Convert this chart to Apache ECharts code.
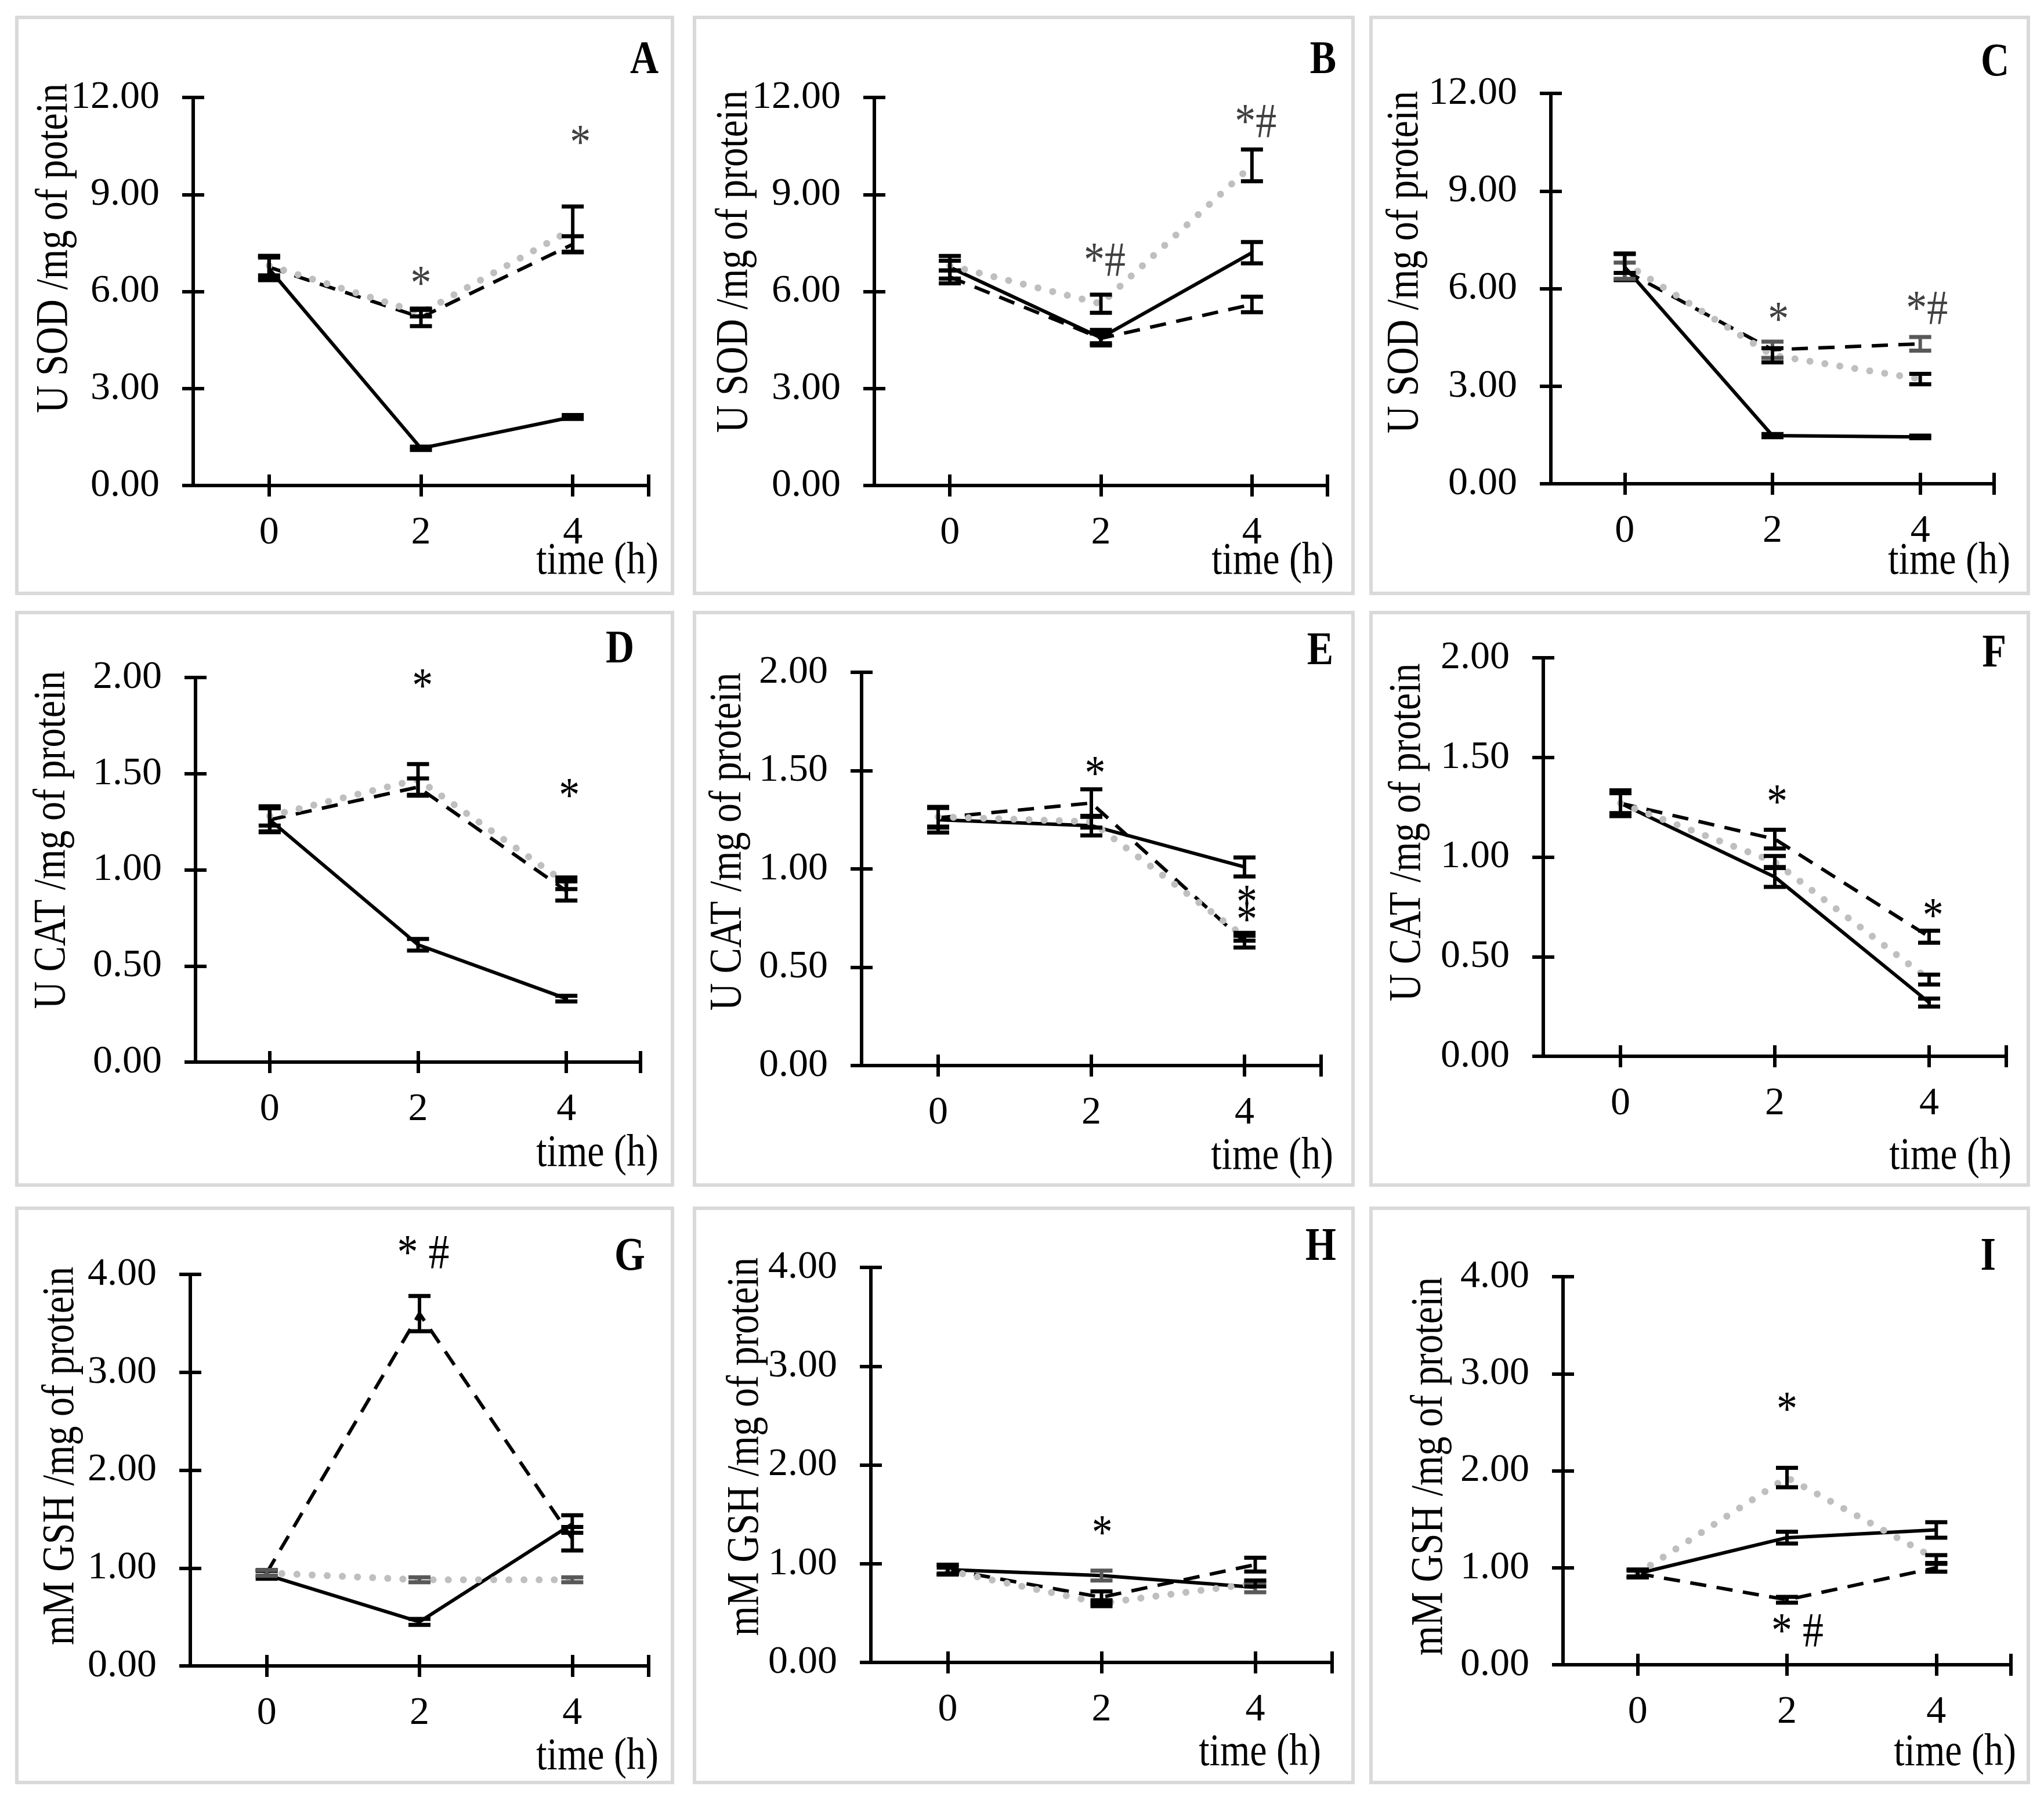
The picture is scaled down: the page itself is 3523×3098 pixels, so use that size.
<!DOCTYPE html>
<html><head><meta charset="utf-8">
<script src="https://cdn.jsdelivr.net/npm/echarts@6/dist/echarts.min.js"></script>
<style>html,body{margin:0;padding:0;background:#fff}#c{width:3523px;height:3098px}</style>
</head><body><div id="c"></div>
<script>
// ---------------- data ----------------
const timePoints = [0, 2, 4];
const xTickValues = [0, 2, 4, 5];
const xLabelValues = [0, 2, 4];
const panelLetters = ['A','B','C','D','E','F','G','H','I'];
const yTitles = [
  'U SOD /mg of potein','U SOD /mg of protein','U SOD /mg of protein',
  'U CAT /mg of protein','U CAT /mg of protein','U CAT /mg of protein',
  'mM GSH /mg of protein','mM GSH /mg of protein','mM GSH /mg of protein'
];
const xTitle = 'time (h)';
const yMax  = [12, 12, 12, 2, 2, 2, 4, 4, 4];
const yStep = [3, 3, 3, 0.5, 0.5, 0.5, 1, 1, 1];

const solidMean = [
  [6.70, 1.15, 2.12], [6.75, 4.57, 7.20], [6.66, 1.48, 1.44],
  [1.26, 0.61, 0.33], [1.25, 1.22, 1.01], [1.27, 0.90, 0.27],
  [0.93, 0.45, 1.45], [0.94, 0.88, 0.76], [0.94, 1.31, 1.39]
];
const solidErr = [
  [0.35, 0.05, 0.06], [0.35, 0.24, 0.33], [0.40, 0.05, 0.04],
  [0.065, 0.03, 0.015], [0.065, 0.05, 0.048], [0.065, 0.05, 0.02],
  [0.04, 0.03, 0.09], [0.05, 0.05, 0.05], [0.04, 0.06, 0.08]
];
const dashedMean = [
  [6.75, 5.20, 7.46], [6.45, 4.55, 5.60], [6.55, 4.12, 4.30],
  [1.26, 1.43, 0.89], [1.26, 1.335, 0.63], [1.27, 1.09, 0.60],
  [0.95, 3.60, 1.30], [0.94, 0.66, 0.99], [0.94, 0.67, 1.00]
];
const dashedErr = [
  [0.35, 0.27, 0.25], [0.20, 0.15, 0.24], [0.25, 0.25, 0.21],
  [0.06, 0.045, 0.05], [0.05, 0.07, 0.03], [0.05, 0.047, 0.03],
  [0.03, 0.18, 0.12], [0.05, 0.06, 0.07], [0.04, 0.03, 0.04]
];
const dottedMean = [
  [6.80, 5.33, 7.93], [6.80, 5.62, 9.90], [6.78, 3.95, 3.22],
  [1.28, 1.47, 0.93], [1.265, 1.24, 0.655], [1.27, 0.975, 0.385],
  [0.95, 0.88, 0.88], [0.93, 0.60, 0.80], [0.94, 1.93, 1.09]
];
const dottedErr = [
  [0.30, 0.10, 0.70], [0.15, 0.28, 0.49], [0.30, 0.22, 0.16],
  [0.05, 0.08, 0.03], [0.05, 0.03, 0.02], [0.05, 0.03, 0.025],
  [0.03, 0.025, 0.025], [0.03, 0.03, 0.03], [0.03, 0.10, 0.04]
];
// significance marks: panel index, x, y, text
const annPanel = [0, 0, 1, 1, 2, 2, 3, 3, 4, 4, 4, 5, 5, 6, 7, 8, 8];
const annX     = [2.0, 4.1, 2.05, 4.05, 2.08, 4.09, 2.06, 4.04, 2.05, 4.03, 4.03, 2.03, 4.05, 2.05, 2.01, 2.0, 2.14];
const annY     = [6.16, 10.52, 6.87, 11.17, 4.96, 5.31, 1.94, 1.37, 1.47, 0.815, 0.728, 1.26, 0.69, 4.19, 1.28, 2.60, 0.32];
const annText  = ['*', '*', '*#', '*#', '*', '*#', '*', '*', '*', '*', '*', '*', '*', '* #', '*', '*', '* #'];

// ---------------- layout / style ----------------
const gridBox = [
  [333,168,1118,837], [1507,168,2288,837], [2673,161,3437,834],
  [337,1168,1104,1831], [1485,1159,2277,1837], [2660,1134,3458,1821],
  [328,2197,1118,2872], [1501,2185,2296,2866], [2694,2201,3466,2870]
];
const borderBox = [
  [29,30,1159,1023], [1197,30,2332,1023], [2363,30,3496,1023],
  [29,1056,1159,2043], [1197,1056,2332,2043], [2363,1056,3496,2043],
  [29,2083,1159,3073], [1197,2083,2332,3073], [2363,2083,3496,3073]
];
const letterPos = [[1135,105],[2303,105],[3463,109],[1093,1121],[2298,1124],[3458,1128],[1112,2168],[2303,2151],[3440,2168]];
const timePos = [[1135,969],[2299,969],[3465,969],[1135,1990],[2298,1995],[3467,1995],[1135,3030],[2277,3023],[3475,3023]];
const yTitlePos = [[95,428],[1267,451],[2423,452],[91,1448],[1256,1451],[2427,1435],[106,2510],[1286,2494],[2465,2528]];
const G1 = '#595959';
const errColors = [
  ['#000','#000','#000'], ['#000','#000','#000'], ['#000',G1,'#000'],
  ['#000','#000','#000'], ['#000','#000','#000'], ['#000','#000','#000'],
  ['#000','#000',G1], [G1,'#000','#000'], ['#000','#000','#000']
];
const annColor = ['#404040','#404040','#404040','#000','#000','#000','#000','#000','#000'];
const FONT = '"Liberation Serif", "Times New Roman", serif';
const TEXT_STRETCH = 1.18;

// ---------------- build ----------------
const grids = [], xAxes = [], yAxes = [], series = [], graphics = [];

function errRender(color) {
  return function (params, api) {
    const x = api.value(0), m = api.value(1), e = api.value(2);
    if (!e) return null;
    const t = api.coord([x, m + e]), b = api.coord([x, m - e]);
    const hw = 19;
    return { type: 'group', children: [
      { type: 'line', shape: { x1: t[0], y1: t[1], x2: b[0], y2: b[1] }, style: { stroke: color, lineWidth: 6 } },
      { type: 'line', shape: { x1: t[0]-hw, y1: t[1], x2: t[0]+hw, y2: t[1] }, style: { stroke: color, lineWidth: 7 } },
      { type: 'line', shape: { x1: b[0]-hw, y1: b[1], x2: b[0]+hw, y2: b[1] }, style: { stroke: color, lineWidth: 7 } }
    ]};
  };
}

for (let p = 0; p < 9; p++) {
  const g = gridBox[p];
  grids.push({ left: g[0], top: g[1], width: g[2]-g[0], height: g[3]-g[1], containLabel: false });
  const axLine = { show: true, onZero: false, lineStyle: { color: '#000', width: 6 } };
  const labelStyle = { fontFamily: FONT, fontSize: 68, color: '#000' };
  // x axes (outer ticks with labels, plus inner ticks so ticks cross the line)
  xAxes.push({ type: 'value', gridIndex: p, position: 'bottom', offset: 0, min: -1, max: 5, interval: 1,
    axisLine: axLine, splitLine: { show: false },
    axisTick: { show: true, length: 19, lineStyle: { color: '#000', width: 6 }, customValues: xTickValues },
    axisLabel: Object.assign({ margin: 48, customValues: xLabelValues }, labelStyle) });
  xAxes.push({ type: 'value', gridIndex: p, position: 'bottom', offset: 0, min: -1, max: 5, interval: 1,
    axisLine: { show: false, onZero: false }, splitLine: { show: false },
    axisTick: { show: true, inside: true, length: 19, lineStyle: { color: '#000', width: 6 }, customValues: xTickValues },
    axisLabel: { show: false } });
  // y axes
  yAxes.push({ type: 'value', gridIndex: p, position: 'left', offset: 0, min: 0, max: yMax[p], interval: yStep[p],
    axisLine: axLine, splitLine: { show: false },
    axisTick: { show: true, length: 19, lineStyle: { color: '#000', width: 6 } },
    axisLabel: Object.assign({ margin: 58, formatter: v => v.toFixed(2) }, labelStyle) });
  yAxes.push({ type: 'value', gridIndex: p, position: 'left', offset: 0, min: 0, max: yMax[p], interval: yStep[p],
    axisLine: { show: false, onZero: false }, splitLine: { show: false },
    axisTick: { show: true, inside: true, length: 19, lineStyle: { color: '#000', width: 6 } },
    axisLabel: { show: false } });

  const xi = 2*p, yi = 2*p;
  const pts = arr => timePoints.map((t, i) => [t, arr[p][i]]);
  const errPts = (m, e) => timePoints.map((t, i) => [t, m[p][i], e[p][i]]);

  series.push({ type: 'line', xAxisIndex: xi, yAxisIndex: yi, data: pts(solidMean), symbol: 'none',
    lineStyle: { color: '#000', width: 6 }, z: 3, silent: true, animation: false });
  series.push({ type: 'line', xAxisIndex: xi, yAxisIndex: yi, data: pts(dashedMean), symbol: 'none',
    lineStyle: { color: '#000', width: 6, type: [28, 18] }, z: 3, silent: true, animation: false });
  series.push({ type: 'line', xAxisIndex: xi, yAxisIndex: yi, data: pts(dottedMean), symbol: 'none',
    lineStyle: { color: '#bfbfbf', width: 12, type: [0.1, 26], cap: 'round' }, z: 4, silent: true, animation: false });

  [[solidMean, solidErr], [dashedMean, dashedErr], [dottedMean, dottedErr]].forEach((pair, k) => {
    series.push({ type: 'custom', xAxisIndex: xi, yAxisIndex: yi, data: errPts(pair[0], pair[1]),
      encode: { x: 0, y: 1 }, renderItem: errRender(errColors[p][k]), z: 5 + k, silent: true, animation: false });
  });

  // significance marks
  const ann = [];
  annPanel.forEach((ap, i) => { if (ap === p) ann.push([annX[i], annY[i], annText[i]]); });
  const col = annColor[p];
  series.push({ type: 'custom', xAxisIndex: xi, yAxisIndex: yi, data: ann, encode: { x: 0, y: 1 }, z: 10,
    silent: true, animation: false,
    renderItem: function (params, api) {
      const c = api.coord([api.value(0), api.value(1)]);
      const txt = ann[params.dataIndex][2];
      return { type: 'text', x: c[0], y: c[1], scaleY: TEXT_STRETCH, style: { text: txt, fill: col,
        font: '72px ' + FONT, align: 'center', verticalAlign: 'middle',
        textAlign: 'center', textVerticalAlign: 'middle' } };
    } });

  // decorations
  const bb = borderBox[p];
  graphics.push({ type: 'rect', shape: { x: bb[0], y: bb[1], width: bb[2]-bb[0], height: bb[3]-bb[1] },
    style: { fill: 'none', stroke: '#d9d9d9', lineWidth: 6 }, silent: true });
  graphics.push({ type: 'text', x: letterPos[p][0], y: letterPos[p][1], scaleY: TEXT_STRETCH,
    style: { text: panelLetters[p], font: 'bold 68px ' + FONT, fill: '#000',
      align: 'right', verticalAlign: 'middle', textAlign: 'right', textVerticalAlign: 'middle' }, silent: true });
  graphics.push({ type: 'text', x: timePos[p][0], y: timePos[p][1], scaleY: TEXT_STRETCH,
    style: { text: xTitle, font: '66px ' + FONT, fill: '#000',
      align: 'right', verticalAlign: 'middle', textAlign: 'right', textVerticalAlign: 'middle' }, silent: true });
  graphics.push({ type: 'text', x: yTitlePos[p][0], y: yTitlePos[p][1], rotation: Math.PI / 2, scaleY: TEXT_STRETCH,
    style: { text: yTitles[p], font: '66px ' + FONT, fill: '#000',
      align: 'center', verticalAlign: 'middle', textAlign: 'center', textVerticalAlign: 'middle' }, silent: true });
}

const chart = echarts.init(document.getElementById('c'), null, { renderer: 'canvas' });
chart.setOption({
  backgroundColor: '#fff',
  animation: false,
  grid: grids, xAxis: xAxes, yAxis: yAxes, series: series,
  graphic: { elements: graphics }
});
</script></body></html>
